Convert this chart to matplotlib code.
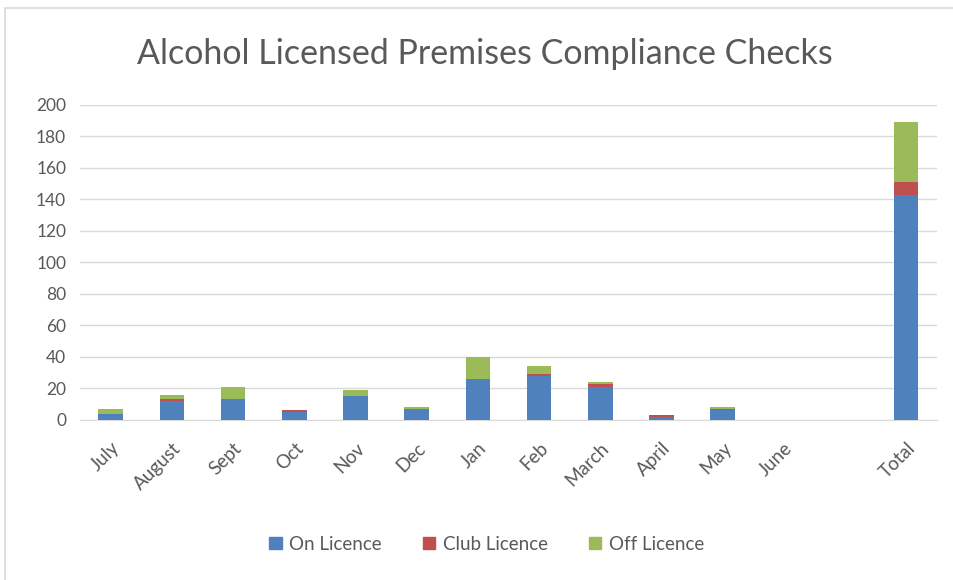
import matplotlib.pyplot as plt
import matplotlib.patches as mpatches
import numpy as np

plt.rcParams['font.family'] = ['Lato', 'DejaVu Sans']

# Data (blank slot before Total)
months = ['July', 'August', 'Sept', 'Oct', 'Nov', 'Dec', 'Jan', 'Feb',
          'March', 'April', 'May', 'June', '', 'Total']
on_licence = [4, 12, 13, 5, 15, 7, 26, 28, 21, 2, 6, 0, 0, 143]
club_licence = [0, 1, 0, 1, 0, 0, 0, 1, 2, 1, 1, 0, 0, 8]
off_licence = [3, 3, 8, 0, 4, 1, 14, 5, 1, 0, 1, 0, 0, 38]

blue = '#4F81BD'
red = '#C0504D'
green = '#9BBB59'
text_col = '#595959'

fig = plt.figure(figsize=(9.54, 5.8), dpi=100)
ax = fig.add_axes([0.084, 0.276, 0.898, 0.543])

x = np.arange(len(months))
on = np.array(on_licence)
club = np.array(club_licence)
off = np.array(off_licence)
w = 0.4
ax.bar(x, on, w, color=blue, label='On Licence', zorder=3)
ax.bar(x, club, w, bottom=on, color=red, label='Club Licence', zorder=3)
ax.bar(x, off, w, bottom=on + club, color=green, label='Off Licence', zorder=3)

ax.set_xlim(-0.5, len(months) - 0.5)
ax.set_ylim(0, 200)
ax.set_yticks(range(0, 201, 20))
ax.yaxis.grid(True, color='#D9D9D9', linewidth=1, zorder=0)
ax.set_xticks(x)
ax.set_xticklabels(months, rotation=45, ha='right', rotation_mode='anchor')
ax.tick_params(axis='both', length=0, colors=text_col)
ax.tick_params(axis='y', pad=10, labelsize=12.5)
ax.tick_params(axis='x', pad=14, labelsize=13.5)
for s in ['top', 'right', 'left']:
    ax.spines[s].set_visible(False)
ax.spines['bottom'].set_color('#D9D9D9')

fig.suptitle('Alcohol Licensed Premises Compliance Checks', x=0.508, y=0.935,
             fontsize=24.5, color=text_col)

handles = [mpatches.Patch(color=c) for c in (blue, red, green)]
fig.legend(handles, ['On Licence', 'Club Licence', 'Off Licence'],
           loc='center', bbox_to_anchor=(0.51, 0.062), ncol=3, frameon=False,
           fontsize=13.5, handlelength=0.65, handleheight=0.65, columnspacing=2.2,
           handletextpad=0.4, labelcolor=text_col)

# chart frame
fig.patches.append(mpatches.Rectangle((0.005, -0.01), 1.1, 0.997,
                                      transform=fig.transFigure, fill=False,
                                      edgecolor='#D9D9D9', linewidth=1.2))

fig.savefig('out.png', dpi=100)
